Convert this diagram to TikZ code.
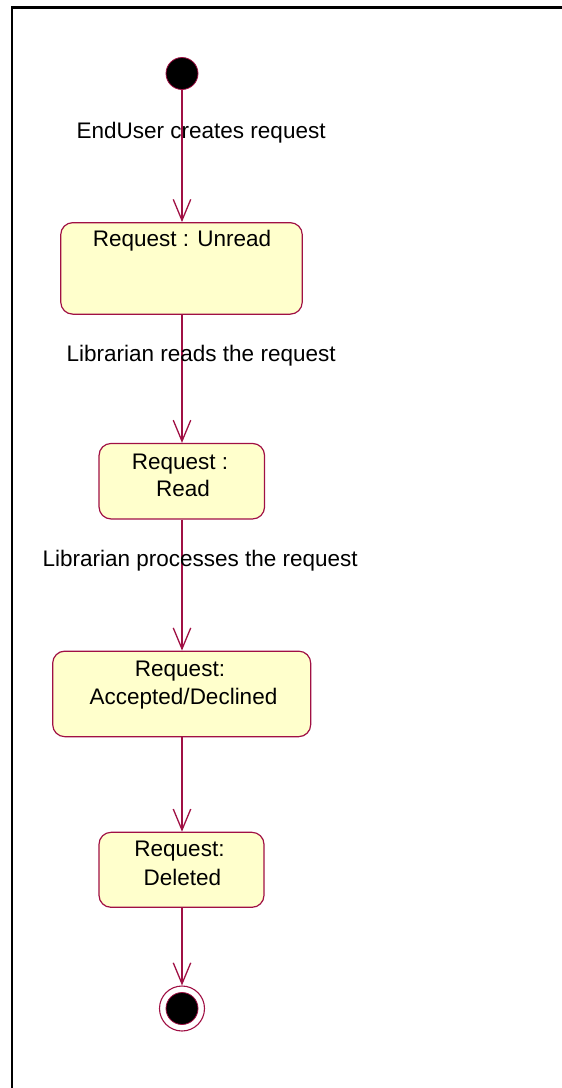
\documentclass[tikz,border=0pt]{standalone}
\usepackage{fontspec}
\setmainfont{Liberation Sans}
\usetikzlibrary{arrows.meta}
\definecolor{edge}{RGB}{160,16,68}
\definecolor{statefill}{RGB}{255,255,204}
\tikzset{
  statebox/.style={draw=edge, fill=statefill, line width=1.2pt, rounded corners=12pt,
    inner sep=0pt, minimum width=#1},
  txt/.style={inner sep=0pt, anchor=base, font=\fontsize{22.5}{27}\selectfont},
  lbl/.style={inner sep=0pt, anchor=base west, font=\fontsize{22.5}{27}\selectfont},
  trans/.style={draw=edge, line width=1.3pt,
    -{Straight Barb[length=21pt,width=17.5pt,line width=1.3pt]}},
}
\begin{document}
\begin{tikzpicture}[x=1pt,y=-1pt]
  \useasboundingbox (0,0) rectangle (562,1088);
  % diagram frame (top and left edges)
  \draw[line width=2.4pt] (12,1090) -- (12,7.5) -- (564,7.5);

  % pseudo-states
  \node (start) [circle, draw=edge, fill=black, line width=0.8pt, minimum size=32pt, inner sep=0pt] at (182,73.5) {};
  \node (stopring) [circle, draw=edge, fill=white, line width=1.1pt, minimum size=45pt, inner sep=0pt] at (182,1008.5) {};
  \node (stop) [circle, draw=edge, fill=black, line width=0.8pt, minimum size=32pt, inner sep=0pt] at (182,1008.5) {};

  % states
  \node (unread) [statebox=241.5pt, minimum height=91.5pt] at (181.5,268.4) {};
  \node (read) [statebox=165.5pt, minimum height=75.5pt] at (181.8,481.2) {};
  \node (acc) [statebox=258pt, minimum height=85.5pt] at (181.7,693.9) {};
  \node (del) [statebox=165pt, minimum height=75pt] at (181.5,869.8) {};

  \node (t1) [txt] at (182,246.7) {Request : Unread};
  \node (t2a) [txt] at (180,469.3) {Request :};
  \node (t2b) [txt] at (183,496.3) {Read};
  \node (t3a) [txt] at (180,676.3) {Request:};
  \node (t3b) [txt] at (183.5,704.8) {Accepted/Declined};
  \node (t4a) [txt] at (179.5,856.7) {Request:};
  \node (t4b) [txt] at (182.5,885.5) {Deleted};

  % transitions, all on the vertical through the initial state
  \draw[trans] (start.south) -- (start.south |- unread.north);
  \draw[trans] (start.south |- unread.south) -- (start.south |- read.north);
  \draw[trans] (start.south |- read.south) -- (start.south |- acc.north);
  \draw[trans] (start.south |- acc.south) -- (start.south |- del.north);
  \draw[trans] (start.south |- del.south) -- (stopring.north);

  % transition labels
  \node (l1) [lbl] at (76.5,138.3) {EndUser creates request};
  \node (l2) [lbl] at (66.5,361.7) {Librarian reads the request};
  \node (l3) [lbl] at (42.3,566.7) {Librarian processes the request};
\end{tikzpicture}
\end{document}
